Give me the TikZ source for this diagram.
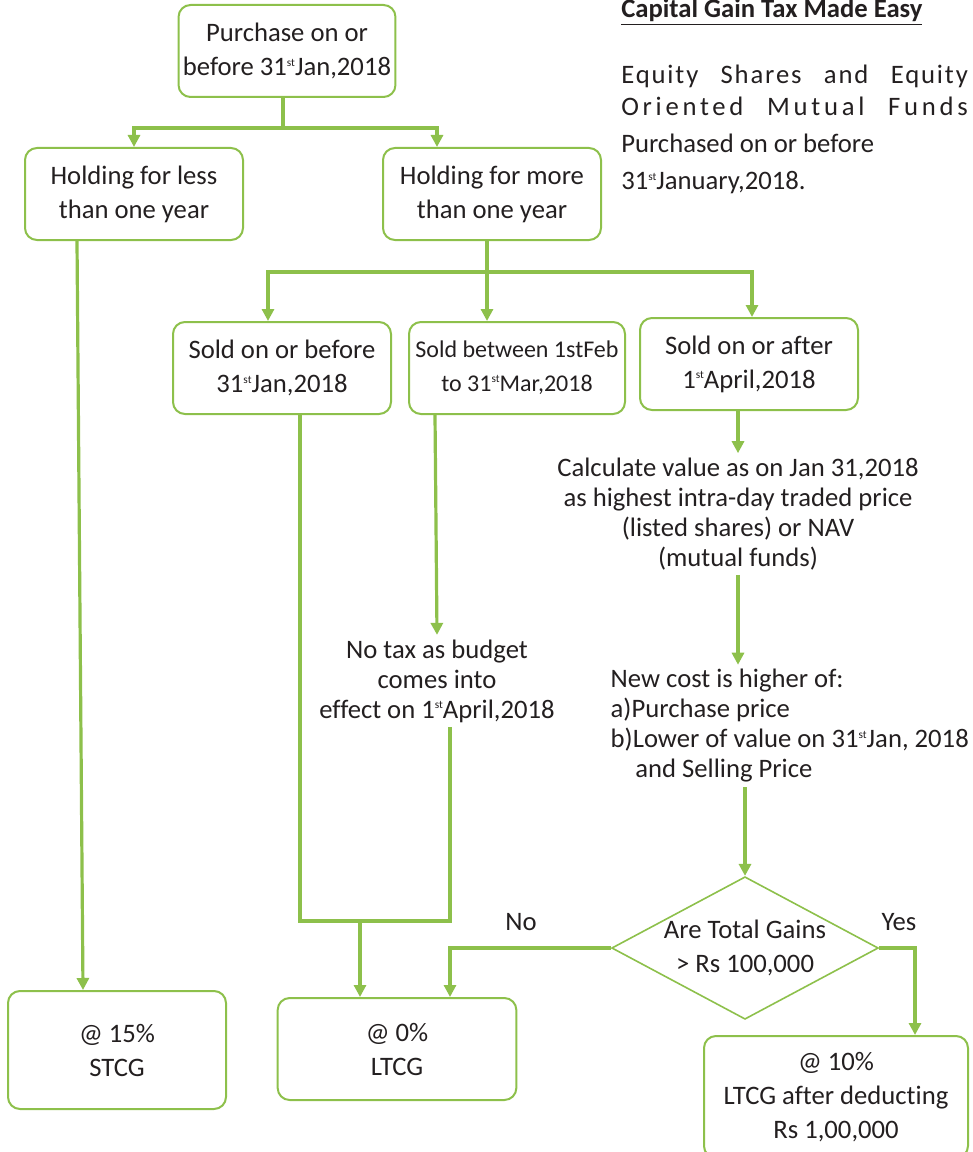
\documentclass[tikz,border=0pt]{standalone}
\usepackage{fontspec}
\setmainfont{Carlito}[Ligatures=NoCommon]
\usetikzlibrary{shapes.geometric, arrows.meta, calc}
\definecolor{leaf}{RGB}{141,192,75}
\definecolor{ink}{RGB}{35,31,32}
\newcommand{\st}{\raisebox{7pt}{\fontsize{8.5}{8.5}\selectfont st}}
\tikzstyle{box} = [rectangle, rounded corners=9pt, minimum width=163.5pt, minimum height=69pt, align=center, draw=leaf, line width=1.5pt, text=ink, font=\fontsize{20}{25.5}\selectfont]
\tikzstyle{note} = [align=center, text=ink, font=\fontsize{20}{22.5}\selectfont]
\tikzstyle{decision} = [diamond, aspect=1.87, minimum width=199.5pt, minimum height=106.5pt, inner sep=0pt, align=center, draw=leaf, line width=1.2pt, text=ink, font=\fontsize{20}{25.5}\selectfont]
\tikzstyle{link} = [leaf, line width=2.4pt]
\tikzstyle{bar} = [leaf, line width=3.2pt]
\tikzstyle{arrow} = [leaf, line width=2.4pt, -{Triangle[length=9pt,width=9pt]}]
\tikzstyle{bigarrow} = [leaf, line width=3.2pt, -{Triangle[length=9pt,width=9pt]}]

\begin{document}
\begin{tikzpicture}[x=0.75pt, y=-0.75pt]
\useasboundingbox (0,0) rectangle (973,1152);
% boxes
\node (purchase) [box, minimum width=161pt] at (287,51) {Purchase on or\\before 31\st Jan,2018};
\node (less) [box] at (134,194) {Holding for less\\than one year};
\node (more) [box] at (492,194) {Holding for more\\than one year};
\node (before) [box] at (282,368) {Sold on or before\\31\st Jan,2018};
\node (between) [box, minimum width=162pt, font=\fontsize{18}{25.5}\selectfont] at (517,368) {Sold between 1stFeb\\to 31\st Mar,2018};
\node (after) [box] at (749,364) {Sold on or after\\1\st April,2018};
\node (stcg) [box, minimum height=88.5pt] at (117,1050) {@ 15\%\\STCG};
\node (zero) [box, minimum width=179pt, minimum height=76.5pt] at (397,1049) {@ 0\%\\LTCG};
\node (ten) [box, minimum width=198pt, minimum height=91.5pt] at (836,1097) {@ 10\%\\LTCG after deducting\\Rs 1,00,000};
\node (gains) [decision] at (745,948) {Are Total Gains\\> Rs 100,000};
% free texts
\node (notax) [note] at (437,681) {No tax as budget\\comes into\\effect on 1\st April,2018};
\node (calc) [note] at (738,514) {Calculate value as on Jan 31,2018\\as highest intra-day traded price\\(listed shares) or NAV\\(mutual funds)};
\node (newcost) [note, align=left, anchor=west] at (606,726) {New cost is higher of:\\a)Purchase price\\b)Lower of value on 31\st Jan, 2018\\\hspace*{18.5pt}and Selling Price};
\node (no) [note] at (521,922) {No};
\node (yes) [note] at (899,922) {Yes};
% heading
\node (title) [note, anchor=base west, inner sep=0pt] at (621,18) {\underline{\textbf{Capital Gain Tax Made Easy}}};
\node (line1) [note, anchor=base west, inner sep=0pt] at (621,84) {\makebox[260pt][s]{\addfontfeature{LetterSpace=7}Equity Shares and Equity}};
\node (line2) [note, anchor=base west, inner sep=0pt] at (621,116) {\makebox[260pt][s]{\addfontfeature{LetterSpace=14}Oriented Mutual Funds}};
\node (line3) [note, anchor=base west, inner sep=0pt] at (621,152) {Purchased on or before};
\node (line4) [note, anchor=base west, inner sep=0pt] at (621,190) {31\st January,2018.};
% joints
\coordinate (split1) at (283,128);
\coordinate (split2) at (487,272);
\coordinate (loop) at (450,921);
\coordinate (drop) at (360,921);
\coordinate (afterdrop) at ($(after.south)+(-11,0)$);
% connectors
\draw [bar] (purchase.south -| split1) -- (split1);
\draw [bigarrow] (split1) -| (less.north);
\draw [bigarrow] (split1) -| ($(more.north)+(-55,0)$);
\draw [bar] (more.south -| split2) -- (split2);
\draw [bigarrow] (split2) -| ($(before.north)+(-14,0)$);
\draw [bigarrow] (split2) -- (split2 |- between.north);
\draw [bigarrow] (split2) -| ($(after.north)+(3,0)$);
\draw [arrow] ($(less.south)+(-57,0)$) -- ($(stcg.north)+(-34,0)$);
\draw [bar] ($(before.south)+(18,0)$) |- (loop) -- (loop |- notax.south);
\draw [bigarrow] (drop) -- (drop |- zero.north);
\draw [arrow] ($(between.south)+(-82,0)$) -- (notax.north);
\draw [arrow] (afterdrop) -- (afterdrop |- calc.north);
\draw [arrow] (calc.south) -- (calc.south |- newcost.north);
\draw [bigarrow] (gains.north |- newcost.south) -- (gains.north);
\draw [bar, -{Triangle[length=9pt,width=9pt]}] (gains.west) -| ($(zero.north)+(53,0)$);
\draw [bar, -{Triangle[length=9pt,width=9pt]}] (gains.east) -| ($(ten.north)+(79,0)$);
\end{tikzpicture}
\end{document}
